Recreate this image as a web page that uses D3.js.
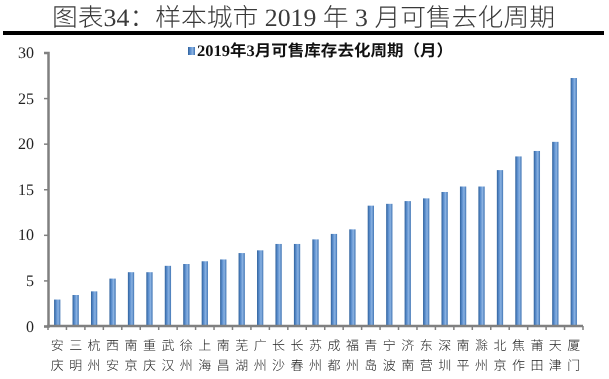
<!DOCTYPE html>
<html lang="zh-CN"><head><meta charset="utf-8">
<script src="https://cdn.jsdelivr.net/npm/d3@7"></script>
<style>html,body{margin:0;padding:0;background:#fff;}svg{display:block;will-change:transform;} text{text-rendering:geometricPrecision;-webkit-font-smoothing:antialiased;}</style>
</head><body>
<script>
const titleText = "图表34：样本城市 2019 年 3 月可售去化周期";
const seriesName = "2019年3月可售库存去化周期（月）";
const cities = ["安庆","三明","杭州","西安","南京","重庆","武汉","徐州","上海","南昌","芜湖","广州","长沙","长春","苏州","成都","福州","青岛","宁波","济南","东营","深圳","南平","滁州","北京","焦作","莆田","天津","厦门"];
const values = [2.9,3.4,3.8,5.2,5.9,5.9,6.6,6.8,7.1,7.3,8.0,8.3,9.0,9.0,9.5,10.1,10.6,13.2,13.4,13.7,14.0,14.7,15.3,15.3,17.1,18.6,19.2,20.2,27.2];
const yTicks = [0,5,10,15,20,25,30];

const W = 609, H = 379;
const svg = d3.select("body").append("svg").attr("width", W).attr("height", H);

const defs = svg.append("defs");
const g = defs.append("linearGradient").attr("id","barGrad").attr("x1","0").attr("x2","1").attr("y1","0").attr("y2","0");
[["0%","#2f619c"],["35%","#5d90cf"],["65%","#8ab2e2"],["100%","#3f74b4"]].forEach(s=>g.append("stop").attr("offset",s[0]).attr("stop-color",s[1]));

// title
svg.append("text").attr("x", 52).attr("y", 26)
  .attr("textLength", 503).attr("lengthAdjust","spacingAndGlyphs")
  .style("font-family", "'Liberation Serif','Noto Sans CJK SC',serif")
  .style("font-size", "25px").style("font-weight","300").style("fill", "#3a3a3a")
  .text(titleText);
svg.append("rect").attr("x", 3).attr("y", 31).attr("width", 601).attr("height", 4).attr("fill", "#000");

const x = d3.scaleBand().domain(cities).range([48, 583]).paddingInner(0.66).paddingOuter(0.33);
const y = d3.scaleLinear().domain([0, 30]).range([326, 52.5]);

// bars
svg.append("g").selectAll("rect").data(values).join("rect")
  .attr("x", (d,i)=>x(cities[i]))
  .attr("y", d=>y(d))
  .attr("width", x.bandwidth())
  .attr("height", d=>y(0)-y(d))
  .attr("fill", "url(#barGrad)");

// y axis
const yAxis = svg.append("g").attr("transform","translate(48,0)")
  .call(d3.axisLeft(y).tickValues(yTicks).tickSize(4).tickPadding(10).tickFormat(d3.format("d")));
yAxis.select(".domain").attr("stroke","#808080").attr("stroke-width",2.5);
yAxis.selectAll(".tick line").attr("stroke","#808080").attr("stroke-width",1.5);
yAxis.selectAll(".tick text").style("font-family","'Liberation Serif',serif").style("font-size","16px").style("fill","#222");

// x axis
const band = (583-48)/cities.length;
const xa = svg.append("g");
xa.append("line").attr("x1",47).attr("x2",583).attr("y1",y(0)).attr("y2",y(0)).attr("stroke","#808080").attr("stroke-width",2.5);
xa.selectAll("line.t").data(d3.range(cities.length+1)).join("line").attr("class","t")
  .attr("x1",i=>48+i*band).attr("x2",i=>48+i*band)
  .attr("y1",y(0)).attr("y2",y(0)+4).attr("stroke","#808080").attr("stroke-width",1.5);

const lab = svg.append("g").selectAll("g").data(cities).join("g")
  .attr("transform", d=>`translate(${x(d)+x.bandwidth()/2},0)`);
lab.selectAll("text").data(d=>d.split("")).join("text")
  .attr("x",0).attr("y",(c,j)=>350+j*19.5)
  .attr("text-anchor","middle")
  .style("font-family","'Noto Sans CJK SC',sans-serif").style("font-size","13px").style("font-weight","300").style("fill","#222")
  .text(c=>c);

// legend
svg.append("rect").attr("x",188).attr("y",47).attr("width",7).attr("height",8).attr("fill","url(#barGrad)");
svg.append("text").attr("x",197).attr("y",56)
  .attr("textLength",256).attr("lengthAdjust","spacingAndGlyphs")
  .style("font-family","'Liberation Serif','Noto Sans CJK SC',serif")
  .style("font-size","16px").style("font-weight","bold").style("fill","#111")
  .text(seriesName);
</script>
</body></html>
